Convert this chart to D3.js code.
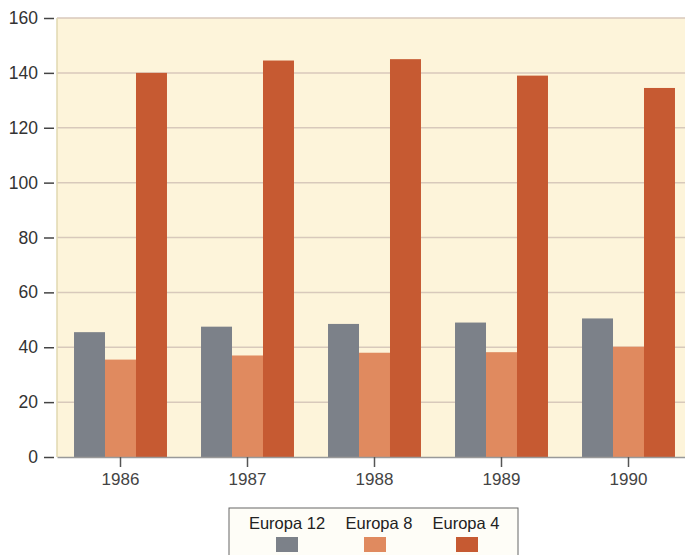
<!DOCTYPE html>
<html><head><meta charset="utf-8">
<script src="https://cdn.jsdelivr.net/npm/d3@7"></script>
<style>body{margin:0;background:#fff;}svg{display:block;}</style>
</head><body>
<svg id="c" width="685" height="555"></svg>
<script>
const years = ["1986","1987","1988","1989","1990"];
const seriesNames = ["Europa 12","Europa 8","Europa 4"];
const europa12 = [45.5, 47.5, 48.5, 49, 50.5];
const europa8 = [35.5, 37, 38, 38.2, 40.2];
const europa4 = [140, 144.5, 145, 139, 134.5];
const yTicks = [0,20,40,60,80,100,120,140,160];
const colors = ["#7c8189","#e08a5f","#c65a32"];

(function(){
const svg = d3.select("#c");
const pLeft = 57, pRight = 692, pTop = 18, pBottom = 457;
const series = [europa12, europa8, europa4];
const font = "Liberation Sans, Arial, sans-serif";

const y = d3.scaleLinear().domain([0,160]).range([pBottom, pTop]);
const x0 = d3.scaleBand().domain(years).range([pLeft, pRight]).paddingInner(0.268).paddingOuter(0.134);
const x1 = d3.scaleBand().domain(seriesNames).range([0, x0.bandwidth()]);

const g = svg.append("g");
g.append("rect").attr("x",pLeft).attr("y",pTop).attr("width",pRight-pLeft).attr("height",pBottom-pTop).attr("fill","#fdf4da");

// gridlines
g.append("g").selectAll("line").data(yTicks.filter(d=>d>0)).join("line")
  .attr("x1",pLeft).attr("x2",pRight).attr("y1",d=>y(d)).attr("y2",d=>y(d))
  .attr("stroke","#d8c9bb").attr("stroke-width",1.5);

// bars
years.forEach((yr,i)=>{
  seriesNames.forEach((s,j)=>{
    g.append("rect").attr("x",x0(yr)+x1(s)).attr("width",x1.bandwidth())
      .attr("y",y(series[j][i])).attr("height",y(0)-y(series[j][i])).attr("fill",colors[j]);
  });
});

// y axis
const yAxis = d3.axisLeft(y).tickValues(yTicks).tickSize(10).tickPadding(6);
const ya = svg.append("g").attr("transform",`translate(${pLeft-3},0)`).call(yAxis);
ya.select(".domain").remove();
ya.selectAll("line").attr("stroke","#444").attr("stroke-width",1.5);
ya.selectAll("text").attr("font-family",font).attr("font-size",17.5).attr("fill","#333");
svg.append("line").attr("x1",pLeft).attr("x2",pLeft).attr("y1",pTop).attr("y2",pBottom).attr("stroke","#e0d8b0").attr("stroke-width",1.5);

// x axis
const xAxis = d3.axisBottom(x0).tickSize(10).tickPadding(6).tickSizeOuter(0);
const xa = svg.append("g").attr("transform",`translate(0,${pBottom})`).call(xAxis);
xa.select(".domain").attr("stroke","#999").attr("stroke-width",1.5);
xa.selectAll("line").attr("stroke","#555").attr("stroke-width",1.5);
xa.selectAll("text").attr("font-family",font).attr("font-size",17).attr("fill","#444");

// legend
const lg = svg.append("g");
lg.append("rect").attr("x",229).attr("y",508).attr("width",289).attr("height",52)
  .attr("fill","#fefdf7").attr("stroke","#666").attr("stroke-width",1);
const lx = [287, 379, 466];
const sx = [287, 375, 467];
seriesNames.forEach((s,j)=>{
  lg.append("text").attr("x",lx[j]).attr("y",529).attr("text-anchor","middle")
    .attr("font-family",font).attr("font-size",16.5).attr("fill","#222").text(s);
  lg.append("rect").attr("x",sx[j]-11).attr("y",537).attr("width",22).attr("height",15).attr("fill",colors[j]);
});
})();
</script>
</body></html>
